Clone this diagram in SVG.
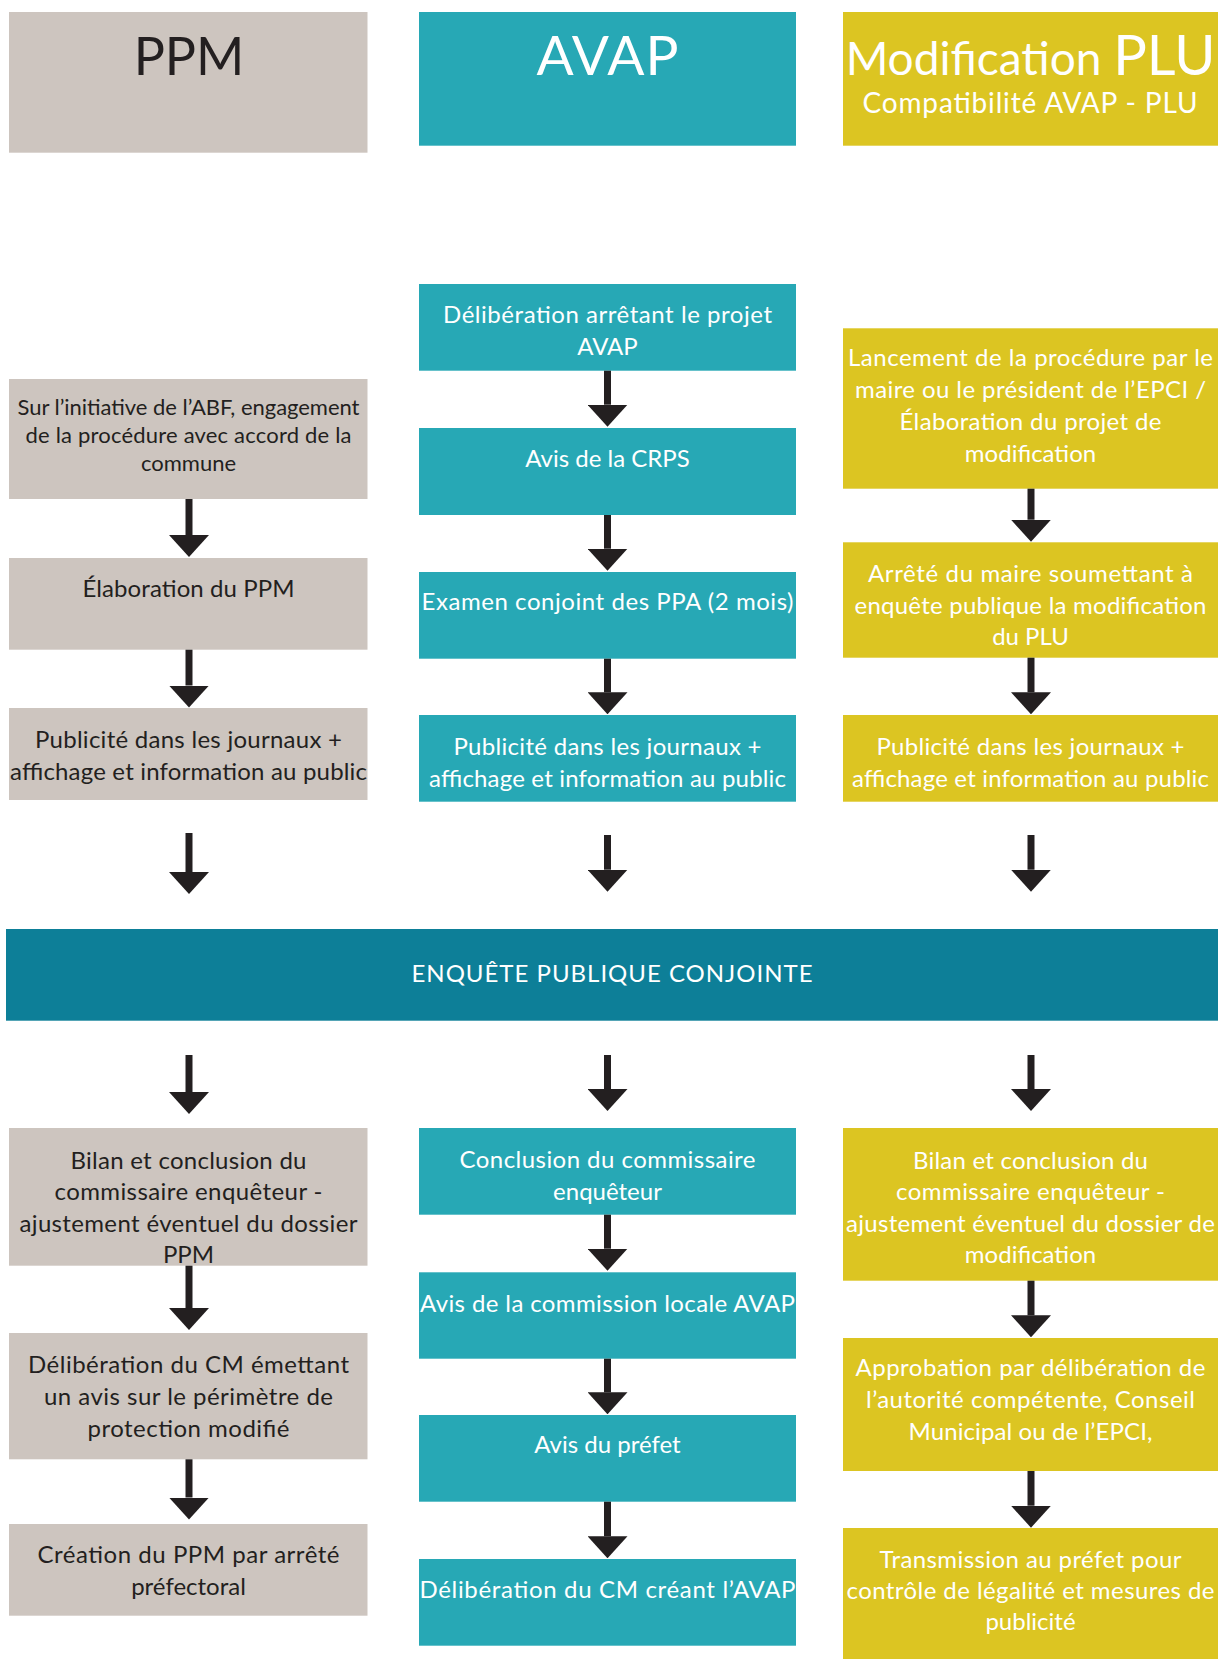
<svg xmlns="http://www.w3.org/2000/svg" width="1218" height="1659" viewBox="0 0 1218 1659">
<defs>
<style>
.ppm{fill:#cdc5bf}
.avap{fill:#27a8b5}
.plu{fill:#dcc522}
.band{fill:#0d7f98}
text{font-family:Lato,"Open Sans","Liberation Sans",sans-serif;text-anchor:middle}
.t{font-size:24px;fill:#ffffff}
.td{font-size:24px;fill:#231f20}
.ts{font-size:22px;fill:#231f20}
.h{font-size:55px}
.arr{stroke:#231f20;stroke-width:7;fill:none;marker-end:url(#ah)}
</style>
<marker id="ah" viewBox="0 -20 22 40" refX="0" refY="0" markerWidth="22" markerHeight="40" markerUnits="userSpaceOnUse" orient="auto">
<path d="M0,-20 L22,0 L0,20 Z" fill="#231f20"/>
</marker>
</defs>
<rect width="1218" height="1659" fill="#ffffff"/>

<g id="h-ppm"><rect class="ppm" x="9" y="12" width="358.5" height="140.7"/><text x="189" y="75" fill="#231f20" font-size="52">PPM</text></g>
<g id="h-avap"><rect class="avap" x="419" y="12" width="377" height="133.7"/><text class="h" x="607.5" y="75" fill="#ffffff" textLength="142">AVAP</text></g>
<g id="h-plu"><rect class="plu" x="843" y="12" width="375" height="133.7"/><text x="1030.5" y="75" fill="#ffffff"><tspan font-size="46">Modification </tspan><tspan font-size="56">PLU</tspan></text><text x="1030" y="113" fill="#ffffff" font-size="28" textLength="335">Compatibilité AVAP - PLU</text></g>

<g id="p1"><rect class="ppm" x="9" y="379" width="358.5" height="120"/><text class="ts" x="188.5" y="415" textLength="342">Sur l’initiative de l’ABF, engagement</text><text class="ts" x="188.5" y="443" textLength="326">de la procédure avec accord de la</text><text class="ts" x="188.5" y="471">commune</text></g>
<g id="p2"><rect class="ppm" x="9" y="558" width="358.5" height="91.7"/><text class="td" x="188.5" y="597" textLength="212">Élaboration du PPM</text></g>
<g id="p3"><rect class="ppm" x="9" y="708" width="358.5" height="92"/><text class="td" x="188.5" y="748" textLength="307">Publicité dans les journaux +</text><text class="td" x="188.5" y="780" textLength="357">affichage et information au public</text></g>
<g id="p4"><rect class="ppm" x="9" y="1128" width="358.5" height="137.7"/><text class="td" x="188.5" y="1169" textLength="236">Bilan et conclusion du</text><text class="td" x="188.5" y="1200" textLength="268">commissaire enquêteur -</text><text class="td" x="188.5" y="1232" textLength="338">ajustement éventuel du dossier</text><text class="td" x="188.5" y="1263">PPM</text></g>
<g id="p5"><rect class="ppm" x="9" y="1333" width="358.5" height="126.3"/><text class="td" x="188.5" y="1373" textLength="321">Délibération du CM émettant</text><text class="td" x="188.5" y="1405" textLength="289">un avis sur le périmètre de</text><text class="td" x="188.5" y="1437" textLength="202">protection modifié</text></g>
<g id="p6"><rect class="ppm" x="9" y="1524" width="358.5" height="91.7"/><text class="td" x="188.5" y="1563" textLength="302">Création du PPM par arrêté</text><text class="td" x="188.5" y="1595">préfectoral</text></g>

<g id="a1"><rect class="avap" x="419" y="284" width="377" height="86.7"/><text class="t" x="607.5" y="323" textLength="329">Délibération arrêtant le projet</text><text class="t" x="607.5" y="355">AVAP</text></g>
<g id="a2"><rect class="avap" x="419" y="428" width="377" height="87"/><text class="t" x="607.5" y="467">Avis de la CRPS</text></g>
<g id="a3"><rect class="avap" x="419" y="572" width="377" height="86.7"/><text class="t" x="607.5" y="610" textLength="372">Examen conjoint des PPA (2 mois)</text></g>
<g id="a4"><rect class="avap" x="419" y="715" width="377" height="86.7"/><text class="t" x="607.5" y="755" textLength="308">Publicité dans les journaux +</text><text class="t" x="607.5" y="787" textLength="357">affichage et information au public</text></g>
<g id="a5"><rect class="avap" x="419" y="1128" width="377" height="86.7"/><text class="t" x="607.5" y="1168" textLength="296">Conclusion du commissaire</text><text class="t" x="607.5" y="1200">enquêteur</text></g>
<g id="a6"><rect class="avap" x="419" y="1272.3" width="377" height="86.4"/><text class="t" x="607.5" y="1311.7" textLength="375">Avis de la commission locale AVAP</text></g>
<g id="a7"><rect class="avap" x="419" y="1415" width="377" height="86.7"/><text class="t" x="607.5" y="1453">Avis du préfet</text></g>
<g id="a8"><rect class="avap" x="419" y="1559" width="377" height="86.7"/><text class="t" x="607.5" y="1598" textLength="376">Délibération du CM créant l’AVAP</text></g>

<g id="l1"><rect class="plu" x="843" y="328.3" width="375" height="160.4"/><text class="t" x="1030.5" y="366" textLength="365">Lancement de la procédure par le</text><text class="t" x="1030.5" y="398" textLength="351">maire ou le président de l’EPCI /</text><text class="t" x="1030.5" y="430" textLength="262">Élaboration du projet de</text><text class="t" x="1030.5" y="462">modification</text></g>
<g id="l2"><rect class="plu" x="843" y="542.3" width="375" height="115.4"/><text class="t" x="1030.5" y="582" textLength="325">Arrêté du maire soumettant à</text><text class="t" x="1030.5" y="614" textLength="352">enquête publique la modification</text><text class="t" x="1030.5" y="645">du PLU</text></g>
<g id="l3"><rect class="plu" x="843" y="715" width="375" height="86.7"/><text class="t" x="1030.5" y="755" textLength="308">Publicité dans les journaux +</text><text class="t" x="1030.5" y="787" textLength="357">affichage et information au public</text></g>
<g id="l4"><rect class="plu" x="843" y="1128" width="375" height="152.7"/><text class="t" x="1030.5" y="1169" textLength="235">Bilan et conclusion du</text><text class="t" x="1030.5" y="1200" textLength="269">commissaire enquêteur -</text><text class="t" x="1030.5" y="1232" textLength="369">ajustement éventuel du dossier de</text><text class="t" x="1030.5" y="1263">modification</text></g>
<g id="l5"><rect class="plu" x="843" y="1338" width="375" height="133"/><text class="t" x="1030.5" y="1376" textLength="350">Approbation par délibération de</text><text class="t" x="1030.5" y="1408" textLength="329">l’autorité compétente, Conseil</text><text class="t" x="1030.5" y="1440" textLength="244">Municipal ou de l’EPCI,</text></g>
<g id="l6"><rect class="plu" x="843" y="1528" width="375" height="131"/><text class="t" x="1030.5" y="1568" textLength="302">Transmission au préfet pour</text><text class="t" x="1030.5" y="1599" textLength="368">contrôle de légalité et mesures de</text><text class="t" x="1030.5" y="1630">publicité</text></g>

<g id="enquete"><rect class="band" x="6" y="929" width="1212" height="91.7"/><text x="612" y="982" fill="#ffffff" font-size="24" textLength="401">ENQUÊTE PUBLIQUE CONJOINTE</text></g>

<g id="connectors">
<path class="arr" d="M189,499 V535"/>
<path class="arr" d="M189,649.7 V685.5"/>
<path class="arr" d="M189,833 V872"/>
<path class="arr" d="M189,1055 V1092"/>
<path class="arr" d="M189,1265.7 V1308"/>
<path class="arr" d="M189,1459.3 V1497.5"/>
<path class="arr" d="M607.5,370.7 V404.7"/>
<path class="arr" d="M607.5,515 V548.7"/>
<path class="arr" d="M607.5,658.7 V692.3"/>
<path class="arr" d="M607.5,835 V869.7"/>
<path class="arr" d="M607.5,1055 V1089"/>
<path class="arr" d="M607.5,1214.7 V1248.7"/>
<path class="arr" d="M607.5,1358.7 V1392.3"/>
<path class="arr" d="M607.5,1501.7 V1536.3"/>
<path class="arr" d="M1031,488.7 V519.7"/>
<path class="arr" d="M1031,657.7 V692.3"/>
<path class="arr" d="M1031,835 V869.7"/>
<path class="arr" d="M1031,1055 V1089"/>
<path class="arr" d="M1031,1280.7 V1315.3"/>
<path class="arr" d="M1031,1471 V1505.7"/>
</g>
</svg>
